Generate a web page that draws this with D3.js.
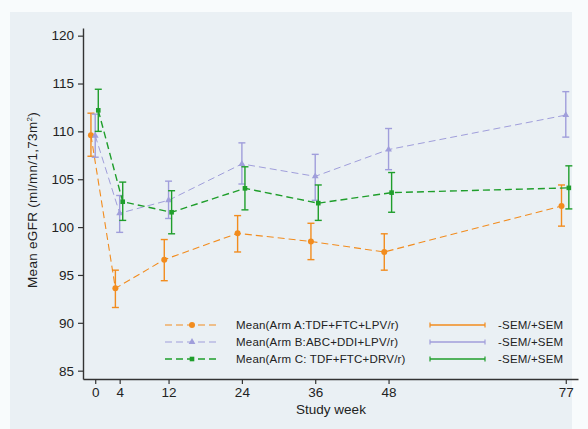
<!DOCTYPE html>
<html>
<head>
<meta charset="utf-8">
<script src="https://cdn.jsdelivr.net/npm/d3@7"></script>
<style>
  body { margin: 0; background: #f8fbfc; }
  svg { display: block; }
</style>
</head>
<body>
<div id="chart"></div>
<script>
// study weeks (x)
var weeks = [0, 4, 12, 24, 36, 48, 77];
var xTicks = [0, 4, 12, 24, 36, 48, 77];
var yTicks = [85, 90, 95, 100, 105, 110, 115, 120];

// mean eGFR and SEM bounds
var armA_mean = [109.6, 93.6, 96.6, 99.35, 98.5, 97.4, 102.2];
var armA_lo   = [107.4, 91.6, 94.4, 97.4, 96.6, 95.5, 100.1];
var armA_hi   = [111.9, 95.5, 98.7, 101.2, 100.4, 99.3, 104.4];

var armB_mean = [109.55, 101.45, 102.8, 106.6, 105.3, 108.1, 111.7];
var armB_lo   = [107.3, 99.45, 100.9, 104.5, 102.8, 106.0, 109.4];
var armB_hi   = [111.8, 103.3, 104.8, 108.8, 107.6, 110.3, 114.15];

var armC_mean = [112.2, 102.65, 101.55, 104.05, 102.5, 103.6, 104.1];
var armC_lo   = [110.0, 100.7, 99.3, 101.8, 100.7, 101.55, 101.9];
var armC_hi   = [114.4, 104.7, 103.8, 106.3, 104.4, 105.7, 106.4];

var seriesNames = ["Mean(Arm A:TDF+FTC+LPV/r)", "Mean(Arm B:ABC+DDI+LPV/r)", "Mean(Arm C: TDF+FTC+DRV/r)"];
var semLabel = "-SEM/+SEM";

var W = 588, H = 429;
var margin = {top: 28, right: 10, bottom: 50, left: 83};

var series = [
  {name: seriesNames[0], mean: armA_mean, lo: armA_lo, hi: armA_hi, color: "#f28c1e", shape: "circle", dx: -0.7, dash: "7,4", sw: 1.1},
  {name: seriesNames[1], mean: armB_mean, lo: armB_lo, hi: armB_hi, color: "#a09edb", shape: "triangle", dx: 0, dash: "7,4", sw: 1},
  {name: seriesNames[2], mean: armC_mean, lo: armC_lo, hi: armC_hi, color: "#1f9e2b", shape: "square", dx: 0.5, dash: "7,4", sw: 1.4}
];

var svg = d3.select("#chart").append("svg")
    .attr("width", W)
    .attr("height", H)
    .style("font-family", "Liberation Sans, Arial, sans-serif");

// panel background
svg.append("rect")
    .attr("x", 10).attr("y", 12)
    .attr("width", 562).attr("height", H - 12)
    .attr("fill", "#eaf0f4");

var x = d3.scaleLinear().domain([-2, 79]).range([margin.left, 578]);
var y = d3.scaleLinear().domain([84.13, 120.8]).range([379, margin.top]);

// axes
var yAxis = svg.append("g")
    .attr("transform", "translate(" + margin.left + ",0)")
    .call(d3.axisLeft(y).tickValues(yTicks).tickSize(5).tickPadding(4).tickSizeOuter(0));
var xAxis = svg.append("g")
    .attr("transform", "translate(0,379)")
    .call(d3.axisBottom(x).tickValues(xTicks).tickSize(5).tickPadding(3).tickSizeOuter(0));

[yAxis, xAxis].forEach(function(a) {
  a.select(".domain").attr("stroke", "#333").attr("stroke-width", 1.4);
  a.selectAll(".tick line").attr("stroke", "#333").attr("stroke-width", 1.2);
  a.selectAll(".tick text").attr("fill", "#222").style("font-size", "13.5px").style("font-family", "Liberation Sans, Arial, sans-serif");
});

svg.append("text")
    .attr("x", 331).attr("y", 414)
    .attr("text-anchor", "middle")
    .attr("fill", "#222")
    .style("font-size", "13.5px")
    .text("Study week");

var yt = svg.append("text")
    .attr("transform", "translate(37,200) rotate(-90)")
    .attr("text-anchor", "middle")
    .attr("fill", "#222")
    .style("font-size", "13.5px")
    .style("letter-spacing", "0.3px");
yt.append("tspan").text("Mean eGFR (ml/mn/1,73m");
yt.append("tspan").attr("dy", "-5").style("font-size", "8px").text("2");
yt.append("tspan").attr("dy", "5").text(")");

function drawMarker(g, shape, cx, cy, color) {
  if (shape === "circle") {
    g.append("circle").attr("cx", cx).attr("cy", cy).attr("r", 3).attr("fill", color);
  } else if (shape === "triangle") {
    g.append("path").attr("d", d3.symbol().type(d3.symbolTriangle).size(20)())
      .attr("transform", "translate(" + cx + "," + cy + ")").attr("fill", color);
  } else {
    g.append("rect").attr("x", cx - 2.3).attr("y", cy - 2.3).attr("width", 4.6).attr("height", 4.6).attr("fill", color);
  }
}

var line = d3.line();

series.forEach(function(s) {
  var g = svg.append("g");
  var pts = weeks.map(function(w, i) { return [x(w + s.dx), y(s.mean[i])]; });
  g.append("path")
      .attr("d", line(pts))
      .attr("fill", "none")
      .attr("stroke", s.color)
      .attr("stroke-width", s.sw)
      .attr("stroke-dasharray", s.dash);
  weeks.forEach(function(w, i) {
    var cx = x(w + s.dx);
    g.append("line").attr("x1", cx).attr("x2", cx)
      .attr("y1", y(s.lo[i])).attr("y2", y(s.hi[i]))
      .attr("stroke", s.color).attr("stroke-width", 1.4);
    [s.lo[i], s.hi[i]].forEach(function(v) {
      g.append("line").attr("x1", cx - 3.5).attr("x2", cx + 3.5)
        .attr("y1", y(v)).attr("y2", y(v))
        .attr("stroke", s.color).attr("stroke-width", 1.4);
    });
    drawMarker(g, s.shape, cx, y(s.mean[i]), s.color);
  });
});

// legend
var legend = svg.append("g")
  .selectAll("g")
  .data(series)
  .enter().append("g")
    .attr("transform", function(d, i) { return "translate(0," + (325 + i * 17) + ")"; });

legend.append("line")
    .attr("x1", 165).attr("x2", 220)
    .attr("stroke", function(d) { return d.color; })
    .attr("stroke-width", function(d) { return d.sw; })
    .attr("stroke-dasharray", "7,4");
legend.each(function(d) { drawMarker(d3.select(this), d.shape, 192, 0, d.color); });
legend.append("text")
    .attr("x", 236).attr("dy", "0.35em")
    .attr("fill", "#222")
    .style("font-size", "11.5px")
    .style("letter-spacing", "0.2px")
    .text(function(d) { return d.name; });
legend.append("line")
    .attr("x1", 430).attr("x2", 485)
    .attr("stroke", function(d) { return d.color; })
    .attr("stroke-width", 1.4);
legend.each(function(d) {
  var lg = d3.select(this);
  [430, 485].forEach(function(px) {
    lg.append("line").attr("x1", px).attr("x2", px).attr("y1", -2.5).attr("y2", 2.5)
      .attr("stroke", d.color).attr("stroke-width", 1.2);
  });
});
legend.append("text")
    .attr("x", 498).attr("dy", "0.35em")
    .attr("fill", "#222")
    .style("font-size", "11.5px")
    .style("letter-spacing", "0.2px")
    .text(semLabel);
</script>
</body>
</html>
